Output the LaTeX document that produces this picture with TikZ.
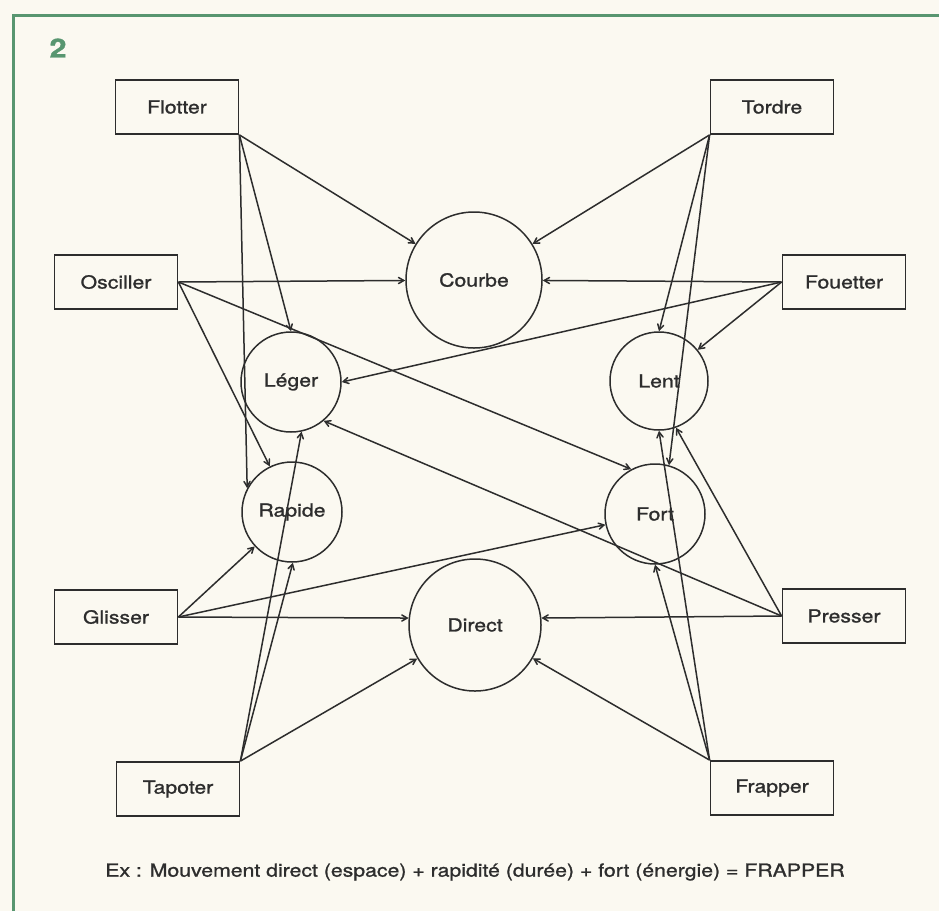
\documentclass[tikz,border=0pt]{standalone}
\usepackage{fontspec}
\setmainfont{TeX Gyre Heros}
\newfontfamily\widefont[FakeStretch=1.18, FakeBold=1.2]{TeX Gyre Heros}
\usepackage{tikz}
\usetikzlibrary{arrows}

\definecolor{paper}{RGB}{251,249,241}
\definecolor{ink}{RGB}{45,45,45}
\definecolor{framegreen}{RGB}{88,150,112}

\begin{document}
\begin{tikzpicture}[x=1pt, y=-1pt,
    box/.style={draw=ink, line width=1.8pt, minimum width=123pt, minimum height=54pt, inner sep=0pt,
        text=ink, font=\widefont\fontsize{18}{20}\selectfont},
    quality/.style={draw=ink, line width=1.5pt, circle, inner sep=0pt,
        text=ink, font=\widefont\fontsize{18}{20}\selectfont},
    link/.style={draw=ink, line width=1.5pt, arrows={-angle 60}}]
            % background and frame
            \fill[paper] (0,0) rectangle (939,911);
            \useasboundingbox (0,0) rectangle (939,911);
            \draw[framegreen, line width=3pt] (13,911) -- (13,15) -- (939,15);
            \node[text=framegreen, font=\widefont\bfseries\fontsize{26}{28}\selectfont] (num) at (58,48) {2};

            % boxes
            \node[box] (flotter) at (177,107) {Flotter};
            \node[box] (osciller) at (116,282) {Osciller};
            \node[box] (glisser) at (116,617) {Glisser};
            \node[box] (tapoter) at (178,789) {Tapoter};
            \node[box] (tordre) at (772,107) {Tordre};
            \node[box] (fouetter) at (844,282) {Fouetter};
            \node[box] (presser) at (844,616) {Presser};
            \node[box] (frapper) at (772,788) {Frapper};

            % circles
            \node[quality, minimum size=136pt] (courbe) at (474,280) {Courbe};
            \node[quality, minimum size=132pt] (direct) at (475,625) {Direct};
            \node[quality, minimum size=100pt] (leger) at (291,382) {Léger};
            \node[quality, minimum size=100pt] (rapide) at (292,512) {Rapide};
            \node[quality, minimum size=98pt] (lent) at (659,381) {Lent};
            \node[quality, minimum size=100pt] (fort) at (655,514) {Fort};

            % arrows
            \foreach \From/\To in {flotter.south east/courbe, flotter.south east/leger.north, flotter.south east/rapide.152,
                osciller.east/courbe, osciller.east/fort.118, osciller.east/rapide.116,
                glisser.east/rapide, glisser.east/fort, glisser.east/direct.174,
                tapoter.north east/leger.282, tapoter.north east/rapide.271, tapoter.north east/direct,
                tordre.south west/courbe, tordre.south west/lent.north, tordre.south west/fort.74,
                fouetter.west/courbe, fouetter.west/leger.east, fouetter.west/lent,
                presser.west/direct.6, presser.west/leger.-50, presser.west/lent.-70,
                frapper.north west/direct, frapper.north west/fort.south, frapper.north west/lent.south}{
                \draw[link] (\From) -- (\To);
            }

            % caption
            \node[text=ink, font=\widefont\fontsize{18}{20}\selectfont] (caption) at (475,872)
                {Ex : Mouvement direct (espace) + rapidité (durée) + fort (énergie) = FRAPPER};
        \end{tikzpicture}
\end{document}
